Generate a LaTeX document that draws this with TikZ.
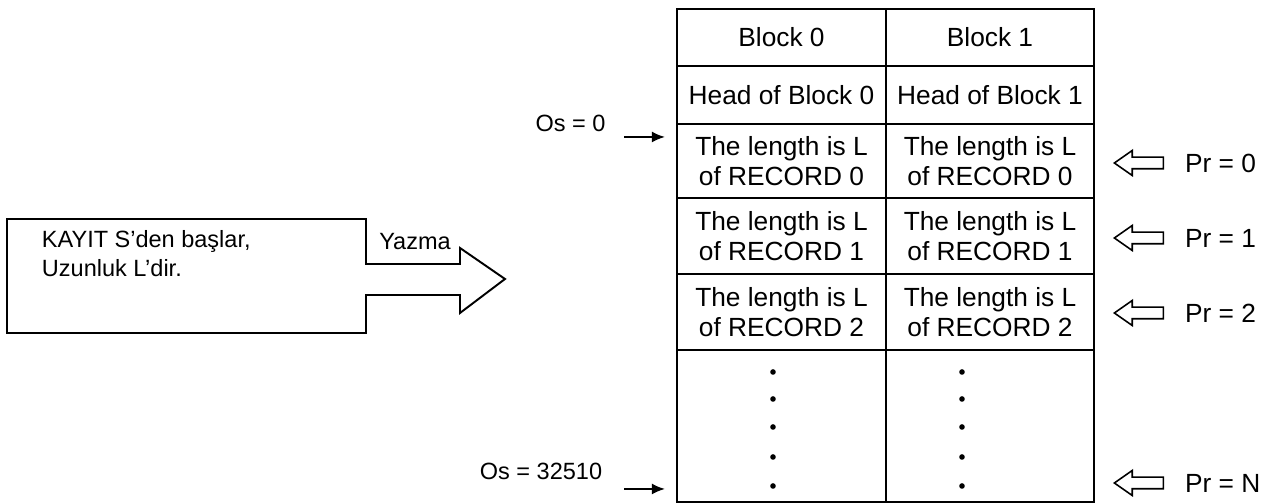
\documentclass[tikz,border=0pt]{standalone}
\usepackage{fontspec}
\setmainfont{Liberation Sans}
\usepackage{tikz}
\usetikzlibrary{arrows.meta,shapes.arrows,positioning}

\begin{document}
\begin{tikzpicture}[line width=0.55pt,
  cell/.style={draw,shape=rectangle,inner sep=0pt,minimum width=2.085cm,align=center,font=\fontsize{7.48}{8.54}\selectfont},
  small/.style={inner sep=0pt,font=\fontsize{6.69}{8.4}\selectfont},
  ptr/.style={draw,line width=0.45pt,single arrow,shape border rotate=180,anchor=tip,minimum height=0.49cm,single arrow head extend=0.067cm,single arrow tip angle=70,inner sep=0pt,text height=0.1cm,text depth=0pt},
  prlabel/.style={anchor=west,inner sep=0pt,font=\fontsize{7.48}{8.54}\selectfont},
  >={Latex[length=3.7pt,width=3.1pt]}]
\useasboundingbox (0,0) rectangle (12.66,5.03);

\node (blk0) at (7.815,4.655) [cell,minimum height=0.57cm] {Block 0};
\node (blk1) at (9.9,4.655) [cell,minimum height=0.57cm] {Block 1};
\node (head0) at (7.815,4.08) [cell,minimum height=0.58cm] {Head of Block 0};
\node (head1) at (9.9,4.08) [cell,minimum height=0.58cm] {Head of Block 1};
\node (rec00) at (7.815,3.42) [cell,minimum height=0.74cm] {The length is L\\of RECORD 0};
\node (rec01) at (9.9,3.42) [cell,minimum height=0.74cm] {The length is L\\of RECORD 0};
\node (rec10) at (7.815,2.67) [cell,minimum height=0.76cm] {The length is L\\of RECORD 1};
\node (rec11) at (9.9,2.67) [cell,minimum height=0.76cm] {The length is L\\of RECORD 1};
\node (rec20) at (7.815,1.91) [cell,minimum height=0.76cm] {The length is L\\of RECORD 2};
\node (rec21) at (9.9,1.91) [cell,minimum height=0.76cm] {The length is L\\of RECORD 2};
\node (rest0) at (7.815,0.77) [cell,minimum height=1.52cm] {};
\node (rest1) at (9.9,0.77) [cell,minimum height=1.52cm] {};

% the dots of the remaining records
\foreach \y in {1.31,1.04,0.76,0.46,0.17} {
  \fill (7.73,\y) circle (0.028);
  \fill (9.62,\y) circle (0.028);
}

% the writing arrow
\draw (0.07,2.84) -- (3.66,2.84) -- (3.66,2.39) -- (4.60,2.39) -- (4.60,2.55) -- (5.05,2.24)
  -- (4.60,1.90) -- (4.60,2.08) -- (3.66,2.08) -- (3.66,1.70) -- (0.07,1.70) -- cycle;
\node (kayit) at (0.41,2.26) [small,anchor=base west,align=left] {KAYIT S’den başlar,\\Uzunluk L’dir.};
\node (yazma) at (4.15,2.53) [small,anchor=base] {Yazma};

\node (os0) at (5.705,3.797) [small] {Os = 0};
\node (osn) at (5.41,0.32) [small] {Os = 32510};
\coordinate (os0a) at (6.24,3.66);
\coordinate (os0b) at (6.65,3.66);
\coordinate (osna) at (6.24,0.14);
\coordinate (osnb) at (6.65,0.14);

\draw [->] (os0a) -- (os0b);
\draw [->] (osna) -- (osnb);

\node (ptr0) at (11.13,3.40) [ptr] {};
\node (ptr1) at (11.13,2.65) [ptr] {};
\node (ptr2) at (11.13,1.90) [ptr] {};
\node (ptrn) at (11.13,0.20) [ptr] {};
\node (pr0) [prlabel,right=0.2cm of ptr0.tail] {Pr = 0};
\node (pr1) [prlabel,right=0.2cm of ptr1.tail] {Pr = 1};
\node (pr2) [prlabel,right=0.2cm of ptr2.tail] {Pr = 2};
\node (prn) [prlabel,right=0.2cm of ptrn.tail] {Pr = N};
\end{tikzpicture}
\end{document}
